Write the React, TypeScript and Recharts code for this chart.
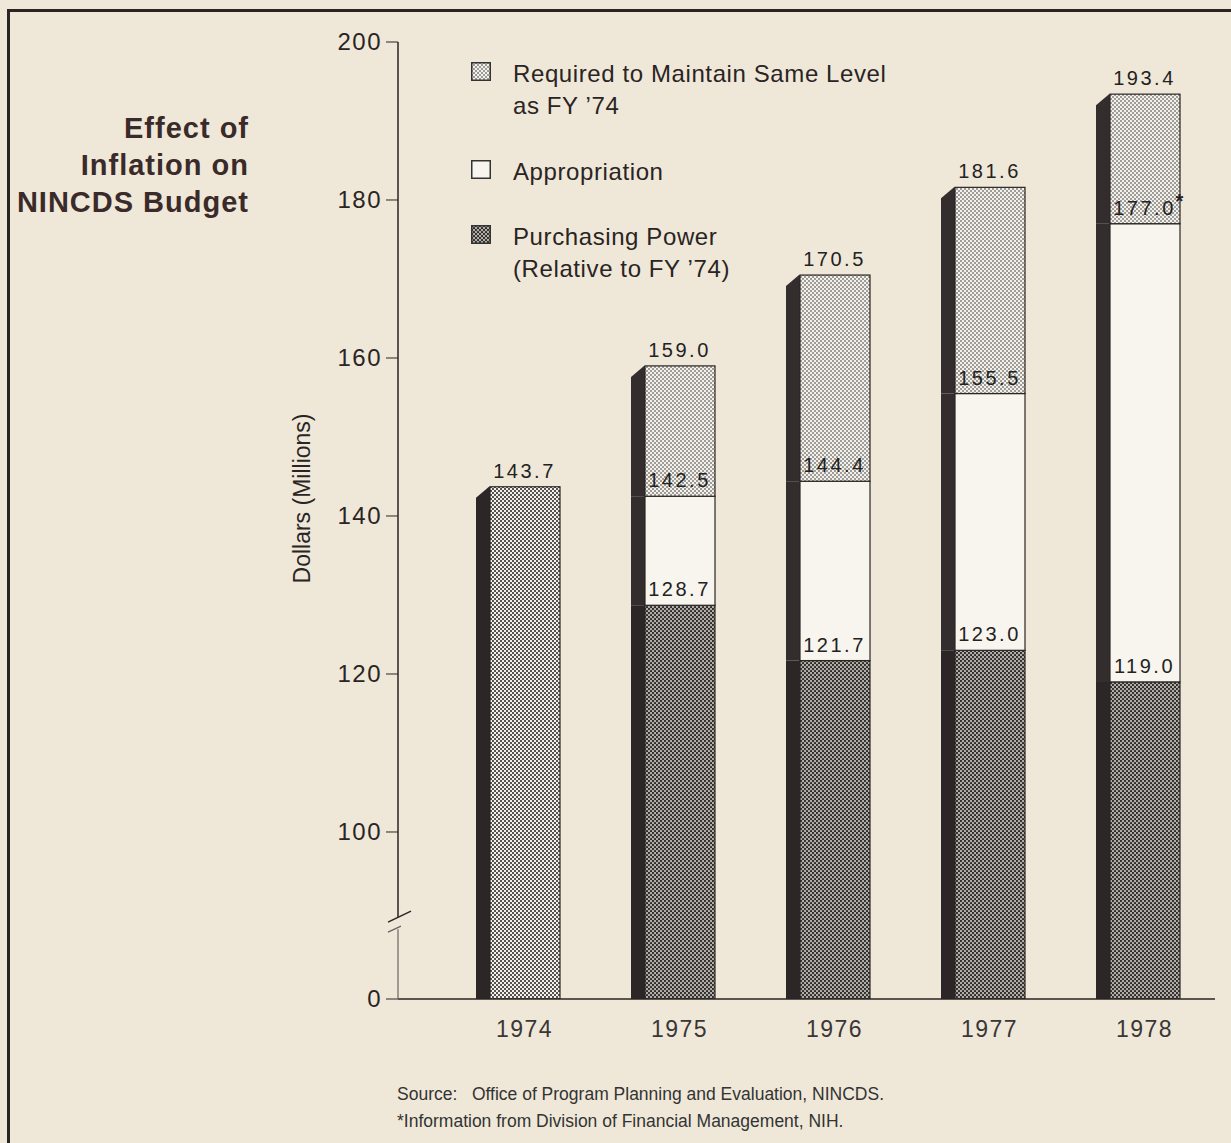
import React from "react";
import { ComposedChart, Bar, Scatter, XAxis, YAxis, Legend } from "recharts";

// ---- data (millions of dollars) ----
const YEARS = ["1974", "1975", "1976", "1977", "1978"];
const PURCHASING_POWER = [143.7, 128.7, 121.7, 123.0, 119.0];
const APPROPRIATION = [143.7, 142.5, 144.4, 155.5, 177.0];
const REQUIRED = [143.7, 159.0, 170.5, 181.6, 193.4];
const APPROPRIATION_NOTE = ["", "", "", "", "*"];
const Y_TICKS = [0, 100, 120, 140, 160, 180, 200];

// the value axis is broken between 0 and 100: "0" sits where 78.86 would be
const AXIS_FLOOR = 78.86;
const AXIS_BREAK = 9.6; // shifted units, where the // marks go
const toAxis = (v: number) => (v === 0 ? 0 : v - AXIS_FLOOR);
const AXIS_TOP = toAxis(200);

const FONT = '"Liberation Sans", Arial, Helvetica, sans-serif';
const BG = "#efe8d8";
const INK = "#2a2424";
const SIDE = 14; // dark "3d" face on the left of every bar
const CHAMFER = 11;

const rows = YEARS.map((year, i) => {
  const p = PURCHASING_POWER[i];
  const a = APPROPRIATION[i];
  const r = REQUIRED[i];
  return {
    year,
    p,
    a,
    r,
    note: APPROPRIATION_NOTE[i],
    power: toAxis(p),
    approp: a - p,
    required: r - a,
    powerLabel: toAxis(p),
    appropLabel: a > p ? toAxis(a) : null,
    requiredLabel: r > a ? toAxis(r) : null,
  };
});

type Kind = "power" | "approp" | "required";

function segmentShape(kind: Kind) {
  return (props: any) => {
    const { x, y, width, height, index } = props;
    if (!height || height <= 0.5) return <g />;
    const row = rows[index];
    const isTop =
      kind === "required" ||
      (kind === "approp" && row.r === row.a) ||
      (kind === "power" && row.a === row.p && row.r === row.p);
    const fx = x + SIDE;
    let fill = "url(#dotsLight)";
    if (kind === "approp") fill = "#f8f5ee";
    if (kind === "power") fill = index === 0 ? "url(#dotsMid)" : "url(#dotsDark)";
    const sidePath = isTop
      ? `M${x},${y + CHAMFER} L${fx - 1},${y} L${fx},${y} L${fx},${y + height} L${x},${y + height} Z`
      : `M${x},${y} L${fx},${y} L${fx},${y + height} L${x},${y + height} Z`;
    return (
      <g>
        <path d={sidePath} fill={kind === "power" ? "#2c2626" : "#342d2d"} />
        <rect x={fx} y={y} width={width - SIDE} height={height} fill={fill} stroke="#2a2626" strokeWidth={1.2} />
      </g>
    );
  };
}

function labelShape(field: "p" | "a" | "r") {
  return (props: any) => {
    const { cx, cy, payload } = props;
    if (cy == null || isNaN(cy) || !payload) return <g />;
    const v = payload[field] as number;
    const note = field === "a" ? payload.note : "";
    const mid = cx + SIDE / 2;
    return (
      <g>
        <text x={mid} y={cy - 9} textAnchor="middle" fontFamily={FONT} fontSize={20} letterSpacing={2.5} fill="#222">
          {v.toFixed(1)}
        </text>
        {note ? (
          <text x={mid + 31} y={cy - 16} fontFamily={FONT} fontSize={20} fontWeight="bold" fill="#222">
            {note}
          </text>
        ) : null}
      </g>
    );
  };
}

function YTick(props: any) {
  const { x, y, payload } = props;
  const v = payload.value as number;
  const text = v === 0 ? "0" : String(Math.round(v + AXIS_FLOOR));
  return (
    <text x={x} y={y} dy={8} textAnchor="end" fontFamily={FONT} fontSize={24} letterSpacing={1.5} fill={INK}>
      {text}
    </text>
  );
}

function XTick(props: any) {
  const { x, y, payload } = props;
  return (
    <text x={x + SIDE / 2} y={y} dy={30} textAnchor="middle" fontFamily={FONT} fontSize={23} letterSpacing={1.5} fill="#3a3636">
      {payload.value}
    </text>
  );
}

// axis title plus the broken axis line (the axis's own line is switched off)
function YAxisDecor(props: any) {
  const vb = props.viewBox || { x: 318, y: 42, width: 80, height: 957 };
  const cx = vb.x - 8;
  const cy = vb.y + vb.height / 2 - 22;
  const ax = vb.x + vb.width;
  const bottom = vb.y + vb.height;
  const yb = vb.y + vb.height * (1 - AXIS_BREAK / AXIS_TOP);
  return (
    <g>
      <text
        x={cx}
        y={cy}
        transform={`rotate(-90 ${cx} ${cy})`}
        textAnchor="middle"
        fontFamily={FONT}
        fontSize={23}
        fill={INK}
      >
        Dollars (Millions)
      </text>
      <line x1={ax} y1={vb.y} x2={ax} y2={yb - 6} stroke={INK} strokeWidth={1.5} />
      <line x1={ax} y1={yb + 6} x2={ax} y2={bottom} stroke="#6a6464" strokeWidth={1.2} />
      <line x1={ax - 10} y1={yb - 1} x2={ax + 13} y2={yb - 12} stroke={INK} strokeWidth={1.5} />
      <line x1={ax - 10} y1={yb + 9} x2={ax + 3} y2={yb + 3} stroke="#6a6464" strokeWidth={1.3} />
    </g>
  );
}

const LEGEND_ITEMS = [
  { fill: "url(#dotsLight)", lines: ["Required to Maintain Same Level", "as FY \u201974"], top: 58 },
  { fill: "#f8f5ee", lines: ["Appropriation"], top: 156 },
  { fill: "url(#dotsDark)", lines: ["Purchasing Power", "(Relative to FY \u201974)"], top: 221 },
];

function LegendBox() {
  return (
    <div style={{ position: "absolute", left: 0, top: 0 }}>
      {LEGEND_ITEMS.map((it) => (
        <div key={it.lines[0]} style={{ position: "absolute", left: 471, top: it.top, width: 420 }}>
          <svg width={20} height={19} style={{ position: "absolute", left: 0, top: 4 }}>
            <rect x={0.75} y={0.75} width={18.5} height={17.5} fill={it.fill} stroke="#333" strokeWidth={1.5} />
          </svg>
          <div
            style={{
              position: "absolute",
              left: 42,
              top: 0,
              fontFamily: FONT,
              fontSize: 24,
              letterSpacing: 0.6,
              lineHeight: "32px",
              color: INK,
              whiteSpace: "nowrap",
            }}
          >
            {it.lines.map((l) => (
              <div key={l}>{l}</div>
            ))}
          </div>
        </div>
      ))}
    </div>
  );
}

export default function App() {
  return (
    <div style={{ position: "absolute", left: 0, top: 0, width: 1231, height: 1143, background: BG, overflow: "hidden" }}>
      <div
        style={{
          position: "absolute",
          left: 7,
          top: 9,
          width: 1224,
          height: 1134,
          borderTop: `3px solid ${INK}`,
          borderLeft: `3px solid ${INK}`,
          boxSizing: "border-box",
        }}
      />
      <div
        style={{
          position: "absolute",
          left: 0,
          top: 110,
          width: 249,
          textAlign: "right",
          fontFamily: FONT,
          fontWeight: "bold",
          fontSize: 29,
          letterSpacing: 1,
          lineHeight: "37px",
          color: "#3a2a2a",
        }}
      >
        <div>Effect of</div>
        <div>Inflation on</div>
        <div>NINCDS Budget</div>
      </div>

      <div style={{ position: "absolute", left: 0, top: 0 }}>
        <ComposedChart
          width={1231}
          height={1143}
          data={rows}
          margin={{ top: 42, right: 16, bottom: 104, left: 318 }}
          barSize={84}
        >
          <defs>
            <pattern id="dotsLight" width="4" height="4" patternUnits="userSpaceOnUse">
              <rect width="4" height="4" fill="#f4f1ea" />
              <circle cx="1" cy="1" r="0.75" fill="#1e1e1e" />
              <circle cx="3" cy="3" r="0.75" fill="#1e1e1e" />
            </pattern>
            <pattern id="dotsMid" width="4" height="4" patternUnits="userSpaceOnUse">
              <rect width="4" height="4" fill="#f4f1ea" />
              <circle cx="1" cy="1" r="1" fill="#1e1e1e" />
              <circle cx="3" cy="3" r="1" fill="#1e1e1e" />
            </pattern>
            <pattern id="dotsDark" width="4" height="4" patternUnits="userSpaceOnUse">
              <rect width="4" height="4" fill="#b0aca6" />
              <circle cx="1" cy="1" r="1.05" fill="#262222" />
              <circle cx="3" cy="3" r="1.05" fill="#262222" />
            </pattern>
          </defs>
          <XAxis
            dataKey="year"
            height={40}
            padding={{ left: 42, right: 0 }}
            tickLine={false}
            axisLine={{ stroke: INK, strokeWidth: 1.5 }}
            tick={<XTick />}
            interval={0}
          />
          <YAxis
            type="number"
            width={80}
            domain={[0, AXIS_TOP]}
            ticks={Y_TICKS.map(toAxis)}
            allowDataOverflow
            tickSize={12}
            tickMargin={4}
            tickLine={{ stroke: INK, strokeWidth: 1 }}
            axisLine={false}
            tick={<YTick />}
            label={(p: any) => <YAxisDecor {...p} />}
          />
          <Legend verticalAlign="middle" layout="horizontal" wrapperStyle={{ left: 0, top: 0, width: 0, height: 0 }} content={() => <LegendBox />} />
          <Bar dataKey="power" stackId="s" isAnimationActive={false} shape={segmentShape("power")} />
          <Bar dataKey="approp" stackId="s" isAnimationActive={false} shape={segmentShape("approp")} />
          <Bar dataKey="required" stackId="s" isAnimationActive={false} shape={segmentShape("required")} />
          <Scatter dataKey="powerLabel" isAnimationActive={false} shape={labelShape("p")} />
          <Scatter dataKey="appropLabel" isAnimationActive={false} shape={labelShape("a")} />
          <Scatter dataKey="requiredLabel" isAnimationActive={false} shape={labelShape("r")} />
        </ComposedChart>
      </div>

      <div
        style={{
          position: "absolute",
          left: 397,
          top: 1081,
          fontFamily: FONT,
          fontSize: 17.5,
          lineHeight: "27px",
          color: "#333",
          whiteSpace: "pre",
        }}
      >
        <div>{"Source:   Office of Program Planning and Evaluation, NINCDS."}</div>
        <div>{"*Information from Division of Financial Management, NIH."}</div>
      </div>
    </div>
  );
}
